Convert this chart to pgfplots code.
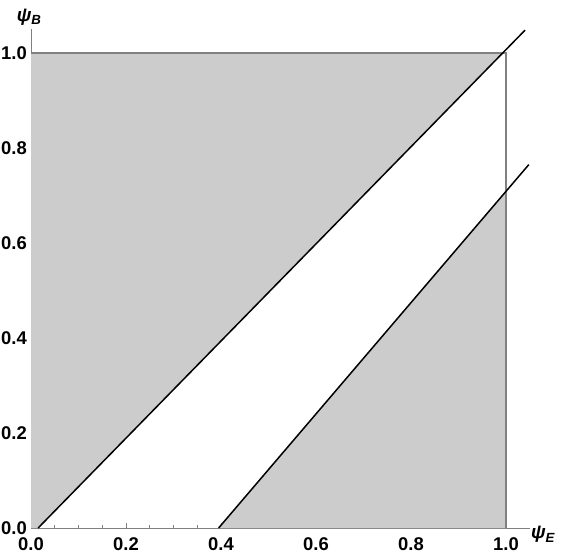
\documentclass[border=0pt]{standalone}
\usepackage{fontspec}
\setmainfont{Liberation Sans}
\usepackage{pgfplots}
\pgfplotsset{compat=1.18}
\definecolor{regiongray}{HTML}{CCCCCC}
\definecolor{axisgray}{HTML}{808080}

\begin{document}
\begin{tikzpicture}
\begin{axis}[
    scale only axis,
    width=498.75bp, height=498.75bp,
    xmin=0, xmax=1.05, ymin=0, ymax=1.05,
    axis x line=bottom, axis y line=left,
    axis line style={draw=axisgray, line width=1bp, -},
    xtick={0,0.2,0.4,0.6,0.8,1.0},
    ytick={0,0.2,0.4,0.6,0.8,1.0},
    minor tick num=3,
    tick align=inside,
    major tick length=5bp, minor tick length=3bp,
    tick style={draw=axisgray, line width=0.9bp},
    ticklabel style={font=\bfseries\fontsize{18.5}{18.5}\selectfont, inner sep=0pt},
    xticklabel style={yshift=-9.5bp},
    yticklabel style={xshift=-4bp},
    /pgf/number format/.cd, fixed, fixed zerofill, precision=1, assume math mode=true,
    /pgfplots/.cd,
    clip=false,
]
    % shaded region inside the unit square
    \addplot[fill=regiongray, draw=none] coordinates {
        (0,0) (0.015,0) (0.993,1) (0,1)
    } -- cycle;
    \addplot[fill=regiongray, draw=none] coordinates {
        (0.395,0) (1,0) (1,0.708)
    } -- cycle;
    % square border
    \addplot[draw=axisgray, line width=1.2bp] coordinates {(0,1) (1,1) (1,0)};
    % boundary lines
    \addplot[black, line width=1.5bp] coordinates {(0.015,0) (1.040,1.048)};
    \addplot[black, line width=1.5bp] coordinates {(0.395,0) (1.048,0.765)};
    \node[font=\bfseries\itshape\fontsize{19}{19}\selectfont, anchor=center]
        at (axis cs:-0.004,1.076) {ψ\textsubscript{B}};
    \node[font=\bfseries\itshape\fontsize{19}{19}\selectfont, anchor=center]
        at (axis cs:1.078,-0.014) {ψ\textsubscript{E}};
\end{axis}
\path (-31bp,-28bp) rectangle (534bp,528bp);
\end{tikzpicture}
\end{document}
